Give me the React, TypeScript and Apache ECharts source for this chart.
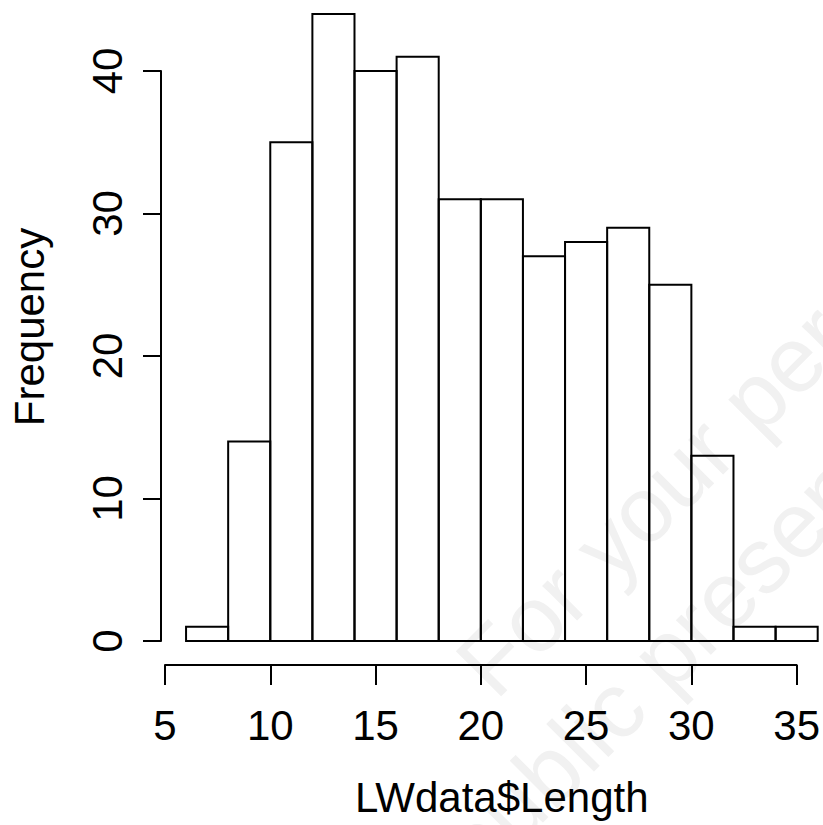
import React, { useEffect, useRef } from "react";
import * as echarts from "echarts";

// Histogram of LWdata$Length: bin edges (width 2) and counts per bin
const binEdges = [6, 8, 10, 12, 14, 16, 18, 20, 22, 24, 26, 28, 30, 32, 34, 36];
const counts = [1, 14, 35, 44, 40, 41, 31, 31, 27, 28, 29, 25, 13, 1, 1];

const xTicks = [5, 10, 15, 20, 25, 30, 35];
const yTicks = [0, 10, 20, 30, 40];

const xTitle = "LWdata$Length";
const yTitle = "Frequency";
const watermarkLines = ["For your personal use only", "public presentation"];

const FONT = "'Liberation Sans', Arial, Helvetica, sans-serif";

export default function App() {
  const ref = useRef<HTMLDivElement>(null);

  useEffect(() => {
    if (!ref.current) return;
    const chart = echarts.init(ref.current, null, { renderer: "svg" });

    const bins = counts.map((c, i) => [binEdges[i], binEdges[i + 1], c]);

    const axisLine = { show: true, onZero: false, lineStyle: { color: "#000", width: 2 } };
    const tickStyle = { color: "#000", width: 2 };

    const watermark = (text: string, x: number, y: number) => ({
      type: "text",
      x,
      y,
      rotation: Math.PI / 4,
      z: 0,
      silent: true,
      style: {
        text,
        fontSize: 93,
        fontFamily: FONT,
        fill: "#f1f1f1",
        align: "left",
        verticalAlign: "bottom",
      },
    });

    chart.setOption({
      animation: false,
      backgroundColor: "#fff",
      grid: { left: 165, right: 26, top: 71, bottom: 184, containLabel: false },
      xAxis: {
        type: "value",
        min: xTicks[0],
        max: xTicks[xTicks.length - 1],
        interval: 5,
        offset: 24,
        axisLine,
        axisTick: { show: true, length: 20, lineStyle: tickStyle },
        axisLabel: { margin: 39, fontSize: 42, color: "#000", fontFamily: FONT },
        splitLine: { show: false },
        name: xTitle,
        nameLocation: "middle",
        nameGap: 111,
        nameTextStyle: { fontSize: 42, color: "#000", fontFamily: FONT, padding: [0, 0, 0, 42] },
      },
      yAxis: {
        type: "value",
        min: yTicks[0],
        max: yTicks[yTicks.length - 1],
        interval: 10,
        offset: 4,
        axisLine,
        axisTick: { show: true, length: 18, lineStyle: tickStyle },
        axisLabel: { margin: 33, fontSize: 42, color: "#000", fontFamily: FONT, rotate: 90 },
        splitLine: { show: false },
        name: yTitle,
        nameLocation: "middle",
        nameRotate: 90,
        nameGap: 111,
        nameTextStyle: { fontSize: 42, color: "#000", fontFamily: FONT, padding: [0, 0, 0, 58] },
      },
      graphic: [
        watermark(watermarkLines[0], 506, 712),
        watermark(watermarkLines[1], 490, 896),
      ],
      series: [
        {
          type: "custom",
          clip: false,
          z: 5,
          data: bins,
          encode: { x: [0, 1], y: 2 },
          renderItem: (_params: any, api: any) => {
            const p0 = api.coord([api.value(0), 0]);
            const p1 = api.coord([api.value(1), api.value(2)]);
            return {
              type: "rect",
              shape: { x: p0[0], y: p1[1], width: p1[0] - p0[0], height: p0[1] - p1[1] },
              style: { fill: "none", stroke: "#000", lineWidth: 2 },
            };
          },
        },
      ],
    });

    return () => chart.dispose();
  }, []);

  return (
    <div
      ref={ref}
      style={{ position: "fixed", left: 0, top: 0, width: 823, height: 825, background: "#fff" }}
    />
  );
}
